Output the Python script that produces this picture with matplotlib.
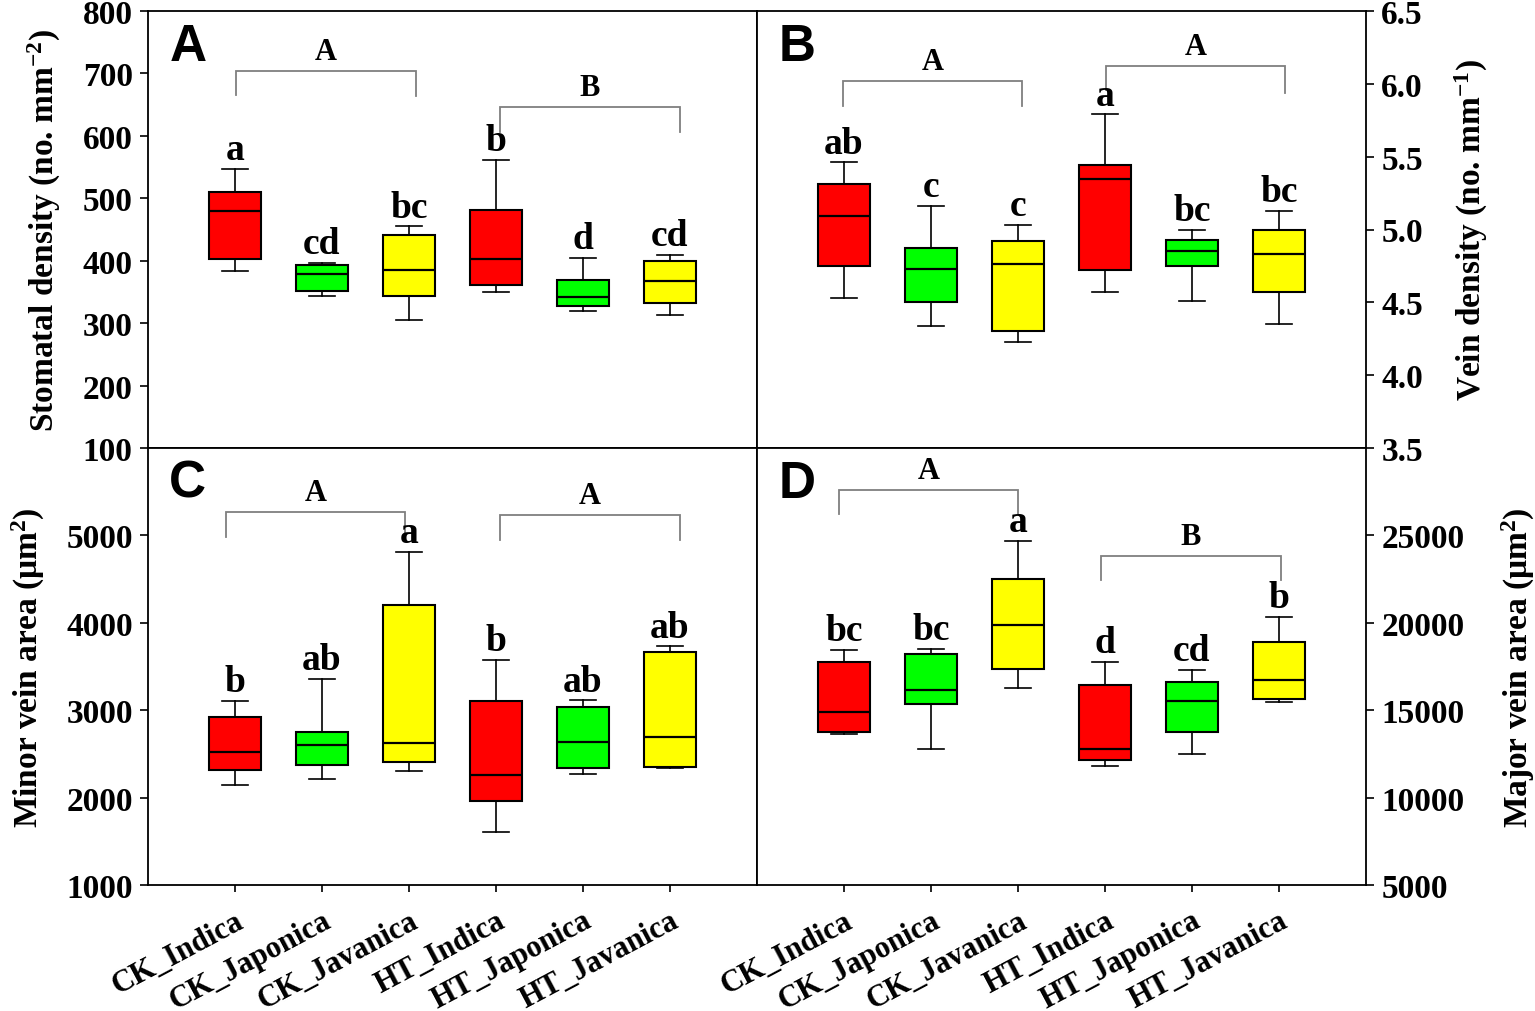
import matplotlib
matplotlib.use('Agg')
import matplotlib.pyplot as plt

plt.rcParams['font.family'] = ['Liberation Serif', 'DejaVu Serif']
plt.rcParams['font.weight'] = 'bold'
plt.rcParams['mathtext.fontset'] = 'custom'
plt.rcParams['mathtext.rm'] = 'Liberation Serif:bold'
plt.rcParams['mathtext.bf'] = 'Liberation Serif:bold'
plt.rcParams['mathtext.it'] = 'Liberation Serif:bold:italic'

categories = ['CK_Indica', 'CK_Japonica', 'CK_Javanica', 'HT_Indica', 'HT_Japonica', 'HT_Javanica']
box_colors = ['#FF0000', '#00FF00', '#FFFF00', '#FF0000', '#00FF00', '#FFFF00']

# Panel A: stomatal density (no. mm-2)
stomatal_whislo = [384, 343, 305, 350, 319, 313]
stomatal_q1 = [403, 352, 344, 361, 328, 332]
stomatal_med = [480, 378, 385, 402, 342, 368]
stomatal_q3 = [510, 393, 441, 481, 369, 400]
stomatal_whishi = [547, 397, 455, 562, 405, 409]
stomatal_letters = ['a', 'cd', 'bc', 'b', 'd', 'cd']
stomatal_groups = ['A', 'B']

# Panel B: vein density (no. mm-1)
vein_whislo = [4.53, 4.34, 4.23, 4.57, 4.51, 4.35]
vein_q1 = [4.75, 4.50, 4.30, 4.72, 4.75, 4.57]
vein_med = [5.09, 4.73, 4.76, 5.35, 4.85, 4.83]
vein_q3 = [5.31, 4.87, 4.92, 5.44, 4.93, 5.00]
vein_whishi = [5.46, 5.16, 5.03, 5.79, 5.00, 5.13]
vein_letters = ['ab', 'c', 'c', 'a', 'bc', 'bc']
vein_groups = ['A', 'A']

# Panel C: minor vein area (um2)
minor_whislo = [2144, 2211, 2303, 1605, 2269, 2336]
minor_q1 = [2319, 2378, 2403, 1960, 2340, 2353]
minor_med = [2524, 2599, 2624, 2261, 2637, 2695]
minor_q3 = [2921, 2745, 4207, 3109, 3038, 3668]
minor_whishi = [3104, 3359, 4812, 3576, 3113, 3731]
minor_letters = ['b', 'ab', 'a', 'b', 'ab', 'ab']
minor_groups = ['A', 'A']

# Panel D: major vein area (um2)
major_whislo = [13664, 12808, 16294, 11827, 12516, 15480]
major_q1 = [13768, 15376, 17359, 12140, 13727, 15647]
major_med = [14896, 16169, 19864, 12787, 15543, 16712]
major_q3 = [17735, 18236, 22495, 16441, 16587, 18904]
major_whishi = [18466, 18507, 24687, 17777, 17317, 20345]
major_letters = ['bc', 'bc', 'a', 'd', 'cd', 'b']
major_groups = ['A', 'B']

fig = plt.figure(figsize=(15.35, 10.12), dpi=100)
L, M, R = 148 / 1535, 757 / 1535, 1366 / 1535
T, MID, B = 1 - 12 / 1012, 1 - 449 / 1012, 1 - 886 / 1012
w = M - L
h = T - MID
axA = fig.add_axes([L, MID, w, h])
axB = fig.add_axes([M, MID, w, h])
axC = fig.add_axes([L, B, w, h])
axD = fig.add_axes([M, B, w, h])

positions = list(range(1, len(categories) + 1))


def draw_panel(ax, whislo, q1, med, q3, whishi, letters, groups, bracket_xy,
               ylim, yticks, ticklabels, panel, ylabel, right, show_x):
    stats = []
    for i in range(len(categories)):
        stats.append(dict(whislo=whislo[i], q1=q1[i], med=med[i], q3=q3[i],
                          whishi=whishi[i], fliers=[], label=categories[i]))
    bp = ax.bxp(stats, positions=positions, widths=0.6, capwidths=0.3,
                patch_artist=True, showfliers=False,
                boxprops=dict(linewidth=1.5, edgecolor='black'),
                medianprops=dict(color='black', linewidth=1.6),
                whiskerprops=dict(color='black', linewidth=1.2),
                capprops=dict(color='black', linewidth=1.2))
    for patch, c in zip(bp['boxes'], box_colors):
        patch.set_facecolor(c)
    ax.set_xlim(0, 7)
    ax.set_ylim(*ylim)
    ax.set_yticks(yticks)
    ax.set_yticklabels(ticklabels)
    ax.set_xticks(positions)
    for sp in ax.spines.values():
        sp.set_linewidth(1.3)
    ax.tick_params(axis='y', direction='out', length=6, width=1.2, labelsize=24, pad=5)
    if show_x:
        ax.set_xticklabels(categories, rotation=28, ha='right', va='top',
                           rotation_mode='anchor', fontsize=22, fontweight='bold')
        ax.tick_params(axis='x', direction='out', length=5, width=1.2, pad=10)
    else:
        ax.tick_params(axis='x', bottom=False, labelbottom=False)
    for lab in ax.get_yticklabels():
        lab.set_fontweight('bold')
    if right:
        ax.yaxis.tick_right()
        ax.yaxis.set_label_position('right')
    ax.set_ylabel(ylabel, fontsize=24, fontweight='bold')
    # significance letters
    for x, y, s in zip(positions, whishi, letters):
        ax.annotate(s, (x, y), xytext=(0, 7), textcoords='offset points',
                    ha='center', va='baseline', fontsize=27, fontweight='bold')
    # group brackets
    for (x0, x1, top, b0, b1), g in zip(bracket_xy, groups):
        ax.plot([x0, x0, x1, x1], [b0, top, top, b1], color='#7f7f7f', lw=1.3,
                solid_joinstyle='miter')
        ax.annotate(g, ((x0 + x1) / 2, top), xytext=(0, 14), textcoords='offset points',
                    ha='center', va='center', fontsize=22, fontweight='bold')
    ax.text(0.035, 0.975, panel, transform=ax.transAxes, ha='left', va='top',
            fontsize=37, fontweight='bold', family='Liberation Sans')


draw_panel(axA, stomatal_whislo, stomatal_q1, stomatal_med, stomatal_q3, stomatal_whishi,
           stomatal_letters, stomatal_groups,
           [(1.01, 3.08, 704, 665, 664), (4.05, 6.11, 646, 606, 606)],
           (100, 800), [100, 200, 300, 400, 500, 600, 700, 800],
           ['100', '200', '300', '400', '500', '600', '700', '800'],
           'A', r'Stomatal density (no. mm$^{-2}$)', False, False)
draw_panel(axB, vein_whislo, vein_q1, vein_med, vein_q3, vein_whishi,
           vein_letters, vein_groups,
           [(0.99, 3.05, 6.02, 5.85, 5.85), (4.01, 6.07, 6.12, 5.96, 5.94)],
           (3.5, 6.5), [3.5, 4.0, 4.5, 5.0, 5.5, 6.0, 6.5],
           ['3.5', '4.0', '4.5', '5.0', '5.5', '6.0', '6.5'],
           'B', r'Vein density (no. mm$^{-1}$)', True, False)
draw_panel(axC, minor_whislo, minor_q1, minor_med, minor_q3, minor_whishi,
           minor_letters, minor_groups,
           [(0.90, 2.95, 5268, 4982, 4982), (4.05, 6.11, 5233, 4947, 4947)],
           (1000, 6000), [1000, 2000, 3000, 4000, 5000],
           ['1000', '2000', '3000', '4000', '5000'],
           'C', r'Minor vein area (μm$^{2}$)', False, True)
draw_panel(axD, major_whislo, major_q1, major_med, major_q3, major_whishi,
           major_letters, major_groups,
           [(0.94, 3.00, 27598, 26225, 26225), (3.95, 6.02, 23822, 22449, 22449)],
           (5000, 30000), [5000, 10000, 15000, 20000, 25000],
           ['5000', '10000', '15000', '20000', '25000'],
           'D', r'Major vein area (μm$^{2}$)', True, True)

axA.yaxis.set_label_coords(-0.14, 0.5)
axC.yaxis.set_label_coords(-0.166, 0.5)
axB.yaxis.set_label_coords(1.143, 0.5)
axD.yaxis.set_label_coords(1.22, 0.5)

fig.savefig('out.png', dpi=100)
